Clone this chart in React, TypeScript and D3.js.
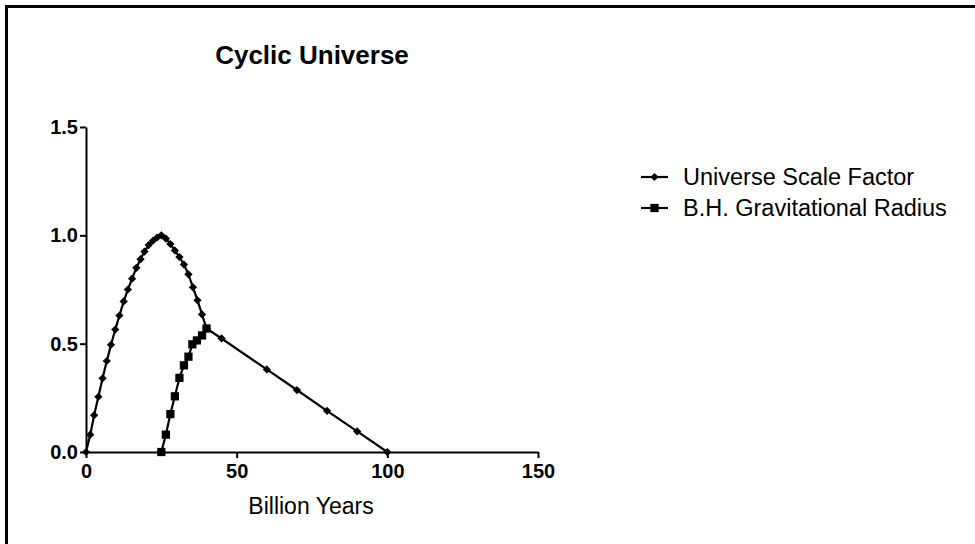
import { useEffect, useRef } from 'react';
import * as d3 from 'd3';

// Universe scale factor (billion years, relative size)
const UNIVERSE_T = [0, 1.4, 2.7, 4.1, 5.5, 6.9, 8.3, 9.7, 11.1, 12.5, 13.9, 15.3, 16.7, 18.1, 19.4, 20.8, 22.2, 23.6, 25,
  26.5, 28, 29.5, 31, 32.5, 34, 35.5, 37, 38.5, 40, 45, 60, 70, 80, 90, 100];
const UNIVERSE_A = [0, 0.08, 0.17, 0.255, 0.34, 0.42, 0.495, 0.565, 0.63, 0.695, 0.75, 0.8, 0.85, 0.89, 0.925, 0.955, 0.975, 0.99, 1.0,
  0.985, 0.96, 0.93, 0.9, 0.865, 0.82, 0.76, 0.7, 0.635, 0.57, 0.524, 0.381, 0.286, 0.19, 0.095, 0];

// Black hole gravitational radius
const BH_T = [25, 26.5, 28, 29.5, 31, 32.5, 34, 35.3, 36.8, 38.5, 40];
const BH_R = [0, 0.08, 0.175, 0.257, 0.342, 0.4, 0.44, 0.497, 0.515, 0.538, 0.57];

const X_TICKS = [0, 50, 100, 150];
const Y_TICKS = [0, 0.5, 1.0, 1.5];
const SERIES_NAMES = ['Universe Scale Factor', 'B.H. Gravitational Radius'];

const FONT = '"Liberation Sans", Arial, Helvetica, sans-serif';

export default function App() {
  const svgRef = useRef<SVGSVGElement>(null);

  useEffect(() => {
    if (!svgRef.current) return;
    const W = 975;
    const H = 544;
    const svg = d3.select(svgRef.current);
    svg.selectAll('*').remove();
    svg.attr('width', W).attr('height', H).attr('viewBox', `0 0 ${W} ${H}`);

    svg.append('rect').attr('width', W).attr('height', H).attr('fill', '#fff');

    // frame (only top and left edges are inside the picture)
    svg.append('path')
      .attr('d', `M6.5,${H + 5} V6.5 H${W + 5}`)
      .attr('fill', 'none')
      .attr('stroke', '#000')
      .attr('stroke-width', 3);

    const x = d3.scaleLinear().domain([0, 150]).range([86, 538]);
    const y = d3.scaleLinear().domain([0, 1.5]).range([452, 127]);

    // title
    svg.append('text')
      .attr('x', 312).attr('y', 64)
      .attr('text-anchor', 'middle')
      .attr('font-family', FONT)
      .attr('font-weight', 700)
      .attr('font-size', 26)
      .text('Cyclic Universe');

    // axes
    const xAxis = svg.append('g')
      .attr('transform', `translate(0,${y(0)})`)
      .call(d3.axisBottom(x).tickValues(X_TICKS).tickFormat(d3.format('d')).tickSize(6).tickSizeOuter(0).tickPadding(6));
    const yAxis = svg.append('g')
      .attr('transform', `translate(${x(0)},0)`)
      .call(d3.axisLeft(y).tickValues(Y_TICKS).tickFormat(d3.format('.1f')).tickSize(6).tickSizeOuter(0).tickPadding(2));

    [xAxis, yAxis].forEach(ax => {
      ax.select('.domain').attr('stroke', '#000').attr('stroke-width', 2);
      ax.selectAll('.tick line').attr('stroke', '#000').attr('stroke-width', 2);
      ax.selectAll('.tick text')
        .attr('fill', '#000')
        .attr('font-family', FONT)
        .attr('font-weight', 700)
        .attr('font-size', 20);
    });

    svg.append('text')
      .attr('x', 311).attr('y', 514)
      .attr('text-anchor', 'middle')
      .attr('font-family', FONT)
      .attr('font-size', 23)
      .text('Billion Years');

    const line = d3.line<[number, number]>().x(d => x(d[0])).y(d => y(d[1]));
    const uni: [number, number][] = UNIVERSE_T.map((t, i) => [t, UNIVERSE_A[i]]);
    const bh: [number, number][] = BH_T.map((t, i) => [t, BH_R[i]]);

    const diamond = d3.symbol(d3.symbolSquare, 34)();
    const square = d3.symbol(d3.symbolSquare, 68)();

    const plot = svg.append('g');
    plot.append('path').attr('d', line(bh)).attr('fill', 'none').attr('stroke', '#000').attr('stroke-width', 2.2);
    plot.append('path').attr('d', line(uni)).attr('fill', 'none').attr('stroke', '#000').attr('stroke-width', 2.2);

    plot.selectAll('.bh').data(bh).join('path')
      .attr('class', 'bh')
      .attr('d', square)
      .attr('transform', d => `translate(${x(d[0])},${y(d[1])})`)
      .attr('fill', '#000');

    plot.selectAll('.uni').data(uni).join('path')
      .attr('class', 'uni')
      .attr('d', diamond)
      .attr('transform', d => `translate(${x(d[0])},${y(d[1])}) rotate(45)`)
      .attr('fill', '#000');

    // legend
    const legend = svg.append('g');
    SERIES_NAMES.forEach((name, i) => {
      const ly = 177 + i * 31;
      legend.append('line')
        .attr('x1', 641).attr('x2', 668).attr('y1', ly).attr('y2', ly)
        .attr('stroke', '#000').attr('stroke-width', 2.2);
      legend.append('path')
        .attr('d', i === 0 ? diamond : square)
        .attr('transform', `translate(654.5,${ly})${i === 0 ? ' rotate(45)' : ''}`)
        .attr('fill', '#000');
      legend.append('text')
        .attr('x', 683).attr('y', ly + 8)
        .attr('font-family', FONT)
        .attr('font-size', 23.5)
        .text(name);
    });
  }, []);

  return (
    <div style={{ position: 'absolute', left: 0, top: 0 }}>
      <svg ref={svgRef} style={{ display: 'block' }} />
    </div>
  );
}
